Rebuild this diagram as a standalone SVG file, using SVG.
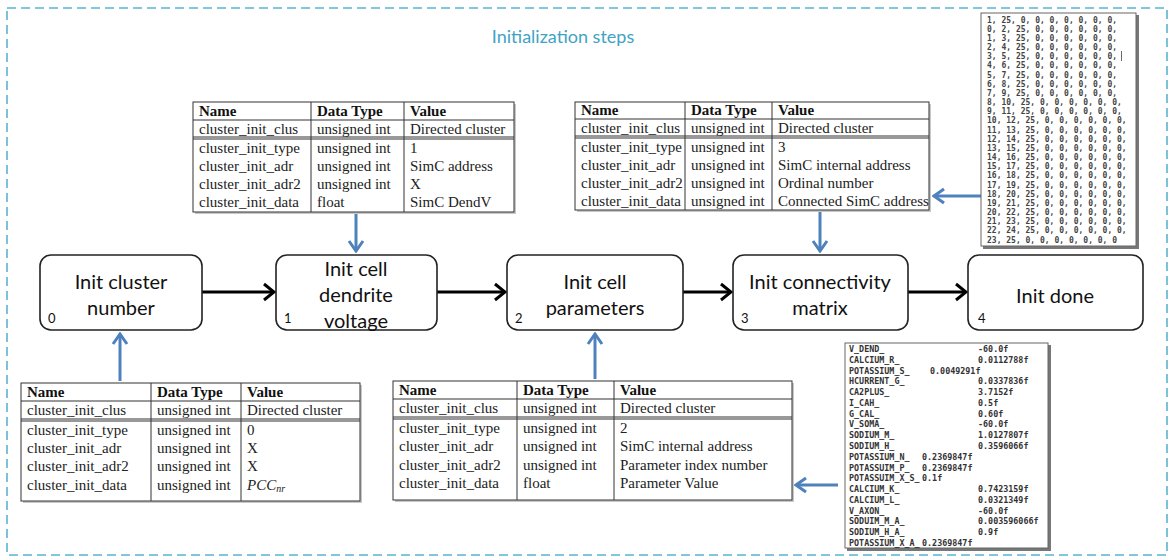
<svg xmlns="http://www.w3.org/2000/svg" width="1173" height="560" viewBox="0 0 1173 560">
  <defs>
    <style>
      .frame { fill: none; stroke: #5ab4d2; stroke-width: 1.6; stroke-dasharray: 9 5; }
      .title { font-family: Lato, "Open Sans", sans-serif; font-size: 18px; fill: #3fa3c4; text-anchor: middle; }
      .step { fill: #fff; stroke: #222; stroke-width: 1.6; }
      .step-text { font-family: Lato, "Open Sans", sans-serif; font-size: 20px; fill: #111; text-anchor: middle; }
      .step-num { font-family: Lato, "Open Sans", sans-serif; font-size: 13px; fill: #111; }
      .flow { fill: none; stroke: #000; stroke-width: 3; }
      .feed { fill: none; stroke: #4f81bd; stroke-width: 3; }
      .tbl { fill: #fff; stroke: #333; stroke-width: 1; }
      .tbl-shadow { fill: #c8c8c8; }
      .rule { stroke: #333; stroke-width: 1; }
      .th { font-family: "Liberation Serif", serif; font-size: 15px; font-weight: bold; fill: #111; }
      .td { font-family: "Liberation Serif", serif; font-size: 15px; fill: #222; }
      .dump { fill: #fff; stroke: #666; stroke-width: 1; }
      .dump-shadow { fill: #777; }
      .mono { font-family: "DejaVu Sans Mono", "Liberation Mono", monospace; font-size: 8px; fill: #444; font-weight: bold; }
      .mono2 { font-family: "DejaVu Sans Mono", "Liberation Mono", monospace; font-size: 8.4px; fill: #333; font-weight: bold; }
    </style>
    <marker id="ah-black" viewBox="-13 -10 15 20" refX="0" refY="0" markerWidth="15" markerHeight="20" markerUnits="userSpaceOnUse" orient="auto">
      <path d="M-10,-8 L0,0 L-10,8" fill="none" stroke="#000" stroke-width="3"/>
    </marker>
    <marker id="ah-blue" viewBox="-13 -10 15 20" refX="0" refY="0" markerWidth="15" markerHeight="20" markerUnits="userSpaceOnUse" orient="auto">
      <path d="M-10,-7 L0,0 L-10,7" fill="none" stroke="#4f81bd" stroke-width="3"/>
    </marker>
  </defs>

  <rect width="1173" height="560" fill="#fff"/>

  <!-- dashed boundary of the initialization stage -->
  <rect class="frame" x="7" y="8" width="1160" height="547"/>
  <text class="title" x="563" y="43">Initialization steps</text>

  <!-- connectors -->
  <g id="connectors">
    <line class="flow" x1="202" y1="292" x2="274" y2="292" marker-end="url(#ah-black)"/>
    <line class="flow" x1="437" y1="292" x2="505" y2="292" marker-end="url(#ah-black)"/>
    <line class="flow" x1="683" y1="292" x2="731" y2="292" marker-end="url(#ah-black)"/>
    <line class="flow" x1="908" y1="292" x2="966" y2="292" marker-end="url(#ah-black)"/>

    <line class="feed" x1="356" y1="214" x2="356" y2="251" marker-end="url(#ah-blue)"/>
    <line class="feed" x1="820" y1="212" x2="820" y2="251" marker-end="url(#ah-blue)"/>
    <line class="feed" x1="120" y1="381" x2="120" y2="334" marker-end="url(#ah-blue)"/>
    <line class="feed" x1="595" y1="379" x2="595" y2="334" marker-end="url(#ah-blue)"/>
    <line class="feed" x1="981" y1="196" x2="934" y2="196" marker-end="url(#ah-blue)"/>
    <line class="feed" x1="838" y1="485" x2="796" y2="485" marker-end="url(#ah-blue)"/>
  </g>

  <!-- step nodes -->
  <g id="step0">
    <rect class="step" x="40" y="255" width="162" height="75" rx="11"/>
    <text class="step-text" x="121" y="289">Init cluster</text>
    <text class="step-text" x="121" y="315">number</text>
    <text class="step-num" x="48" y="323">0</text>
  </g>
  <g id="step1">
    <rect class="step" x="276" y="255" width="161" height="75" rx="11"/>
    <text class="step-text" x="356" y="276">Init cell</text>
    <text class="step-text" x="356" y="302">dendrite</text>
    <text class="step-text" x="356" y="328">voltage</text>
    <text class="step-num" x="284" y="323">1</text>
  </g>
  <g id="step2">
    <rect class="step" x="507" y="255" width="176" height="75" rx="11"/>
    <text class="step-text" x="595" y="289">Init cell</text>
    <text class="step-text" x="595" y="315">parameters</text>
    <text class="step-num" x="515" y="323">2</text>
  </g>
  <g id="step3">
    <rect class="step" x="733" y="255" width="175" height="75" rx="11"/>
    <text class="step-text" x="820" y="289">Init connectivity</text>
    <text class="step-text" x="820" y="315">matrix</text>
    <text class="step-num" x="741" y="323">3</text>
  </g>
  <g id="step4">
    <rect class="step" x="968" y="255" width="175" height="75" rx="11"/>
    <text class="step-text" x="1055" y="303">Init done</text>
    <text class="step-num" x="978" y="323">4</text>
  </g>

  <!-- packet table for step 1 -->
  <g id="table-step1">
    <rect class="tbl-shadow" x="195" y="104" width="321" height="110"/>
    <rect class="tbl" x="193" y="102" width="321" height="110"/>
    <line class="rule" x1="311" y1="102" x2="311" y2="212"/>
    <line class="rule" x1="404" y1="102" x2="404" y2="212"/>
    <line class="rule" x1="193" y1="120" x2="514" y2="120"/>
    <line class="rule" x1="193" y1="137" x2="514" y2="137"/>
    <line class="rule" x1="193" y1="139" x2="514" y2="139"/>
    <text class="th" x="199" y="116">Name</text>
    <text class="th" x="317" y="116">Data Type</text>
    <text class="th" x="410" y="116">Value</text>
    <text class="td" x="199" y="134">cluster_init_clus</text>
    <text class="td" x="317" y="134">unsigned int</text>
    <text class="td" x="410" y="134">Directed cluster</text>
    <text class="td" x="199" y="153">cluster_init_type</text>
    <text class="td" x="317" y="153">unsigned int</text>
    <text class="td" x="410" y="153">1</text>
    <text class="td" x="199" y="171">cluster_init_adr</text>
    <text class="td" x="317" y="171">unsigned int</text>
    <text class="td" x="410" y="171">SimC address</text>
    <text class="td" x="199" y="189">cluster_init_adr2</text>
    <text class="td" x="317" y="189">unsigned int</text>
    <text class="td" x="410" y="189">X</text>
    <text class="td" x="199" y="207">cluster_init_data</text>
    <text class="td" x="317" y="207">float</text>
    <text class="td" x="410" y="207">SimC DendV</text>
  </g>

  <!-- packet table for step 3 -->
  <g id="table-step3">
    <rect class="tbl-shadow" x="577" y="104" width="354" height="108"/>
    <rect class="tbl" x="575" y="102" width="354" height="108"/>
    <line class="rule" x1="685" y1="102" x2="685" y2="210"/>
    <line class="rule" x1="772" y1="102" x2="772" y2="210"/>
    <line class="rule" x1="575" y1="119" x2="929" y2="119"/>
    <line class="rule" x1="575" y1="136" x2="929" y2="136"/>
    <line class="rule" x1="575" y1="138" x2="929" y2="138"/>
    <text class="th" x="581" y="115">Name</text>
    <text class="th" x="691" y="115">Data Type</text>
    <text class="th" x="778" y="115">Value</text>
    <text class="td" x="581" y="133">cluster_init_clus</text>
    <text class="td" x="691" y="133">unsigned int</text>
    <text class="td" x="778" y="133">Directed cluster</text>
    <text class="td" x="581" y="152">cluster_init_type</text>
    <text class="td" x="691" y="152">unsigned int</text>
    <text class="td" x="778" y="152">3</text>
    <text class="td" x="581" y="170">cluster_init_adr</text>
    <text class="td" x="691" y="170">unsigned int</text>
    <text class="td" x="778" y="170">SimC internal address</text>
    <text class="td" x="581" y="188">cluster_init_adr2</text>
    <text class="td" x="691" y="188">unsigned int</text>
    <text class="td" x="778" y="188">Ordinal number</text>
    <text class="td" x="581" y="206">cluster_init_data</text>
    <text class="td" x="691" y="206">unsigned int</text>
    <text class="td" x="778" y="206">Connected SimC address</text>
  </g>

  <!-- packet table for step 0 -->
  <g id="table-step0">
    <rect class="tbl-shadow" x="23" y="385" width="339" height="118"/>
    <rect class="tbl" x="21" y="383" width="339" height="118"/>
    <line class="rule" x1="151" y1="383" x2="151" y2="501"/>
    <line class="rule" x1="241" y1="383" x2="241" y2="501"/>
    <line class="rule" x1="21" y1="401" x2="360" y2="401"/>
    <line class="rule" x1="21" y1="419" x2="360" y2="419"/>
    <line class="rule" x1="21" y1="421" x2="360" y2="421"/>
    <text class="th" x="27" y="397">Name</text>
    <text class="th" x="157" y="397">Data Type</text>
    <text class="th" x="247" y="397">Value</text>
    <text class="td" x="27" y="415">cluster_init_clus</text>
    <text class="td" x="157" y="415">unsigned int</text>
    <text class="td" x="247" y="415">Directed cluster</text>
    <text class="td" x="27" y="435">cluster_init_type</text>
    <text class="td" x="157" y="435">unsigned int</text>
    <text class="td" x="247" y="435">0</text>
    <text class="td" x="27" y="453">cluster_init_adr</text>
    <text class="td" x="157" y="453">unsigned int</text>
    <text class="td" x="247" y="453">X</text>
    <text class="td" x="27" y="471">cluster_init_adr2</text>
    <text class="td" x="157" y="471">unsigned int</text>
    <text class="td" x="247" y="471">X</text>
    <text class="td" x="27" y="490">cluster_init_data</text>
    <text class="td" x="157" y="490">unsigned int</text>
    <text class="td" x="247" y="490" font-style="italic">PCC<tspan font-size="10" dy="2">nr</tspan></text>
  </g>

  <!-- packet table for step 2 -->
  <g id="table-step2">
    <rect class="tbl-shadow" x="395" y="383" width="399" height="119"/>
    <rect class="tbl" x="393" y="381" width="399" height="119"/>
    <line class="rule" x1="517" y1="381" x2="517" y2="500"/>
    <line class="rule" x1="614" y1="381" x2="614" y2="500"/>
    <line class="rule" x1="393" y1="399" x2="792" y2="399"/>
    <line class="rule" x1="393" y1="417" x2="792" y2="417"/>
    <line class="rule" x1="393" y1="419" x2="792" y2="419"/>
    <text class="th" x="399" y="395">Name</text>
    <text class="th" x="523" y="395">Data Type</text>
    <text class="th" x="620" y="395">Value</text>
    <text class="td" x="399" y="413">cluster_init_clus</text>
    <text class="td" x="523" y="413">unsigned int</text>
    <text class="td" x="620" y="413">Directed cluster</text>
    <text class="td" x="399" y="433">cluster_init_type</text>
    <text class="td" x="523" y="433">unsigned int</text>
    <text class="td" x="620" y="433">2</text>
    <text class="td" x="399" y="451">cluster_init_adr</text>
    <text class="td" x="523" y="451">unsigned int</text>
    <text class="td" x="620" y="451">SimC internal address</text>
    <text class="td" x="399" y="470">cluster_init_adr2</text>
    <text class="td" x="523" y="470">unsigned int</text>
    <text class="td" x="620" y="470">Parameter index number</text>
    <text class="td" x="399" y="488">cluster_init_data</text>
    <text class="td" x="523" y="488">float</text>
    <text class="td" x="620" y="488">Parameter Value</text>
  </g>

  <!-- connectivity matrix dump -->
  <g id="matrix-dump">
    <rect class="dump-shadow" x="983" y="15" width="156" height="234"/>
    <rect class="dump" x="981" y="13" width="155" height="233"/>
    <text class="mono" x="987" y="22.5">1, 25, 0, 0, 0, 0, 0, 0, 0,</text>
    <text class="mono" x="987" y="31.7">0, 2, 25, 0, 0, 0, 0, 0, 0,</text>
    <text class="mono" x="987" y="40.8">1, 3, 25, 0, 0, 0, 0, 0, 0,</text>
    <text class="mono" x="987" y="50">2, 4, 25, 0, 0, 0, 0, 0, 0,</text>
    <text class="mono" x="987" y="59.2">3, 5, 25, 0, 0, 0, 0, 0, 0,</text>
    <line x1="1121.5" y1="51" x2="1121.5" y2="61" stroke="#444" stroke-width="0.8"/>
    <text class="mono" x="987" y="68.3">4, 6, 25, 0, 0, 0, 0, 0, 0,</text>
    <text class="mono" x="987" y="77.5">5, 7, 25, 0, 0, 0, 0, 0, 0,</text>
    <text class="mono" x="987" y="86.7">6, 8, 25, 0, 0, 0, 0, 0, 0,</text>
    <text class="mono" x="987" y="95.8">7, 9, 25, 0, 0, 0, 0, 0, 0,</text>
    <text class="mono" x="987" y="105">8, 10, 25, 0, 0, 0, 0, 0, 0,</text>
    <text class="mono" x="987" y="114.2">9, 11, 25, 0, 0, 0, 0, 0, 0,</text>
    <text class="mono" x="987" y="123.3">10, 12, 25, 0, 0, 0, 0, 0, 0,</text>
    <text class="mono" x="987" y="132.5">11, 13, 25, 0, 0, 0, 0, 0, 0,</text>
    <text class="mono" x="987" y="141.7">12, 14, 25, 0, 0, 0, 0, 0, 0,</text>
    <text class="mono" x="987" y="150.8">13, 15, 25, 0, 0, 0, 0, 0, 0,</text>
    <text class="mono" x="987" y="160">14, 16, 25, 0, 0, 0, 0, 0, 0,</text>
    <text class="mono" x="987" y="169.2">15, 17, 25, 0, 0, 0, 0, 0, 0,</text>
    <text class="mono" x="987" y="178.3">16, 18, 25, 0, 0, 0, 0, 0, 0,</text>
    <text class="mono" x="987" y="187.5">17, 19, 25, 0, 0, 0, 0, 0, 0,</text>
    <text class="mono" x="987" y="196.7">18, 20, 25, 0, 0, 0, 0, 0, 0,</text>
    <text class="mono" x="987" y="205.8">19, 21, 25, 0, 0, 0, 0, 0, 0,</text>
    <text class="mono" x="987" y="215">20, 22, 25, 0, 0, 0, 0, 0, 0,</text>
    <text class="mono" x="987" y="224.2">21, 23, 25, 0, 0, 0, 0, 0, 0,</text>
    <text class="mono" x="987" y="233.3">22, 24, 25, 0, 0, 0, 0, 0, 0,</text>
    <text class="mono" x="987" y="242.5">23, 25, 0, 0, 0, 0, 0, 0, 0</text>
  </g>

  <!-- cell parameter list -->
  <g id="parameter-list">
    <rect class="dump-shadow" x="847" y="345" width="204" height="206"/>
    <rect class="dump" x="845" y="343" width="203" height="205"/>
    <text class="mono2" x="849" y="352">V_DEND_</text><text class="mono2" x="978" y="352">-60.0f</text>
    <text class="mono2" x="849" y="362.8">CALCIUM_R_</text><text class="mono2" x="978" y="362.8">0.0112788f</text>
    <text class="mono2" x="849" y="373.6">POTASSIUM_S_</text><text class="mono2" x="930" y="373.6">0.0049291f</text>
    <text class="mono2" x="849" y="384.3">HCURRENT_G_</text><text class="mono2" x="978" y="384.3">0.0337836f</text>
    <text class="mono2" x="849" y="395.1">CA2PLUS_</text><text class="mono2" x="978" y="395.1">3.7152f</text>
    <text class="mono2" x="849" y="405.9">I_CAH_</text><text class="mono2" x="978" y="405.9">0.5f</text>
    <text class="mono2" x="849" y="416.7">G_CAL_</text><text class="mono2" x="978" y="416.7">0.60f</text>
    <text class="mono2" x="849" y="427.4">V_SOMA_</text><text class="mono2" x="978" y="427.4">-60.0f</text>
    <text class="mono2" x="849" y="438.2">SODIUM_M_</text><text class="mono2" x="978" y="438.2">1.0127807f</text>
    <text class="mono2" x="849" y="449">SODIUM_H_</text><text class="mono2" x="978" y="449">0.3596066f</text>
    <text class="mono2" x="849" y="459.8">POTASSIUM_N_</text><text class="mono2" x="922" y="459.8">0.2369847f</text>
    <text class="mono2" x="849" y="470.6">POTASSUIM_P_</text><text class="mono2" x="922" y="470.6">0.2369847f</text>
    <text class="mono2" x="849" y="481.3">POTASSUIM_X_S_</text><text class="mono2" x="922" y="481.3">0.1f</text>
    <text class="mono2" x="849" y="492.1">CALCIUM_K_</text><text class="mono2" x="978" y="492.1">0.7423159f</text>
    <text class="mono2" x="849" y="502.9">CALCIUM_L_</text><text class="mono2" x="978" y="502.9">0.0321349f</text>
    <text class="mono2" x="849" y="513.7">V_AXON_</text><text class="mono2" x="978" y="513.7">-60.0f</text>
    <text class="mono2" x="849" y="524.4">SODUIM_M_A_</text><text class="mono2" x="978" y="524.4">0.003596066f</text>
    <text class="mono2" x="849" y="535.2">SODIUM_H_A_</text><text class="mono2" x="978" y="535.2">0.9f</text>
    <text class="mono2" x="849" y="546">POTASSIUM_X_A_</text><text class="mono2" x="922" y="546">0.2369847f</text>
  </g>
</svg>
